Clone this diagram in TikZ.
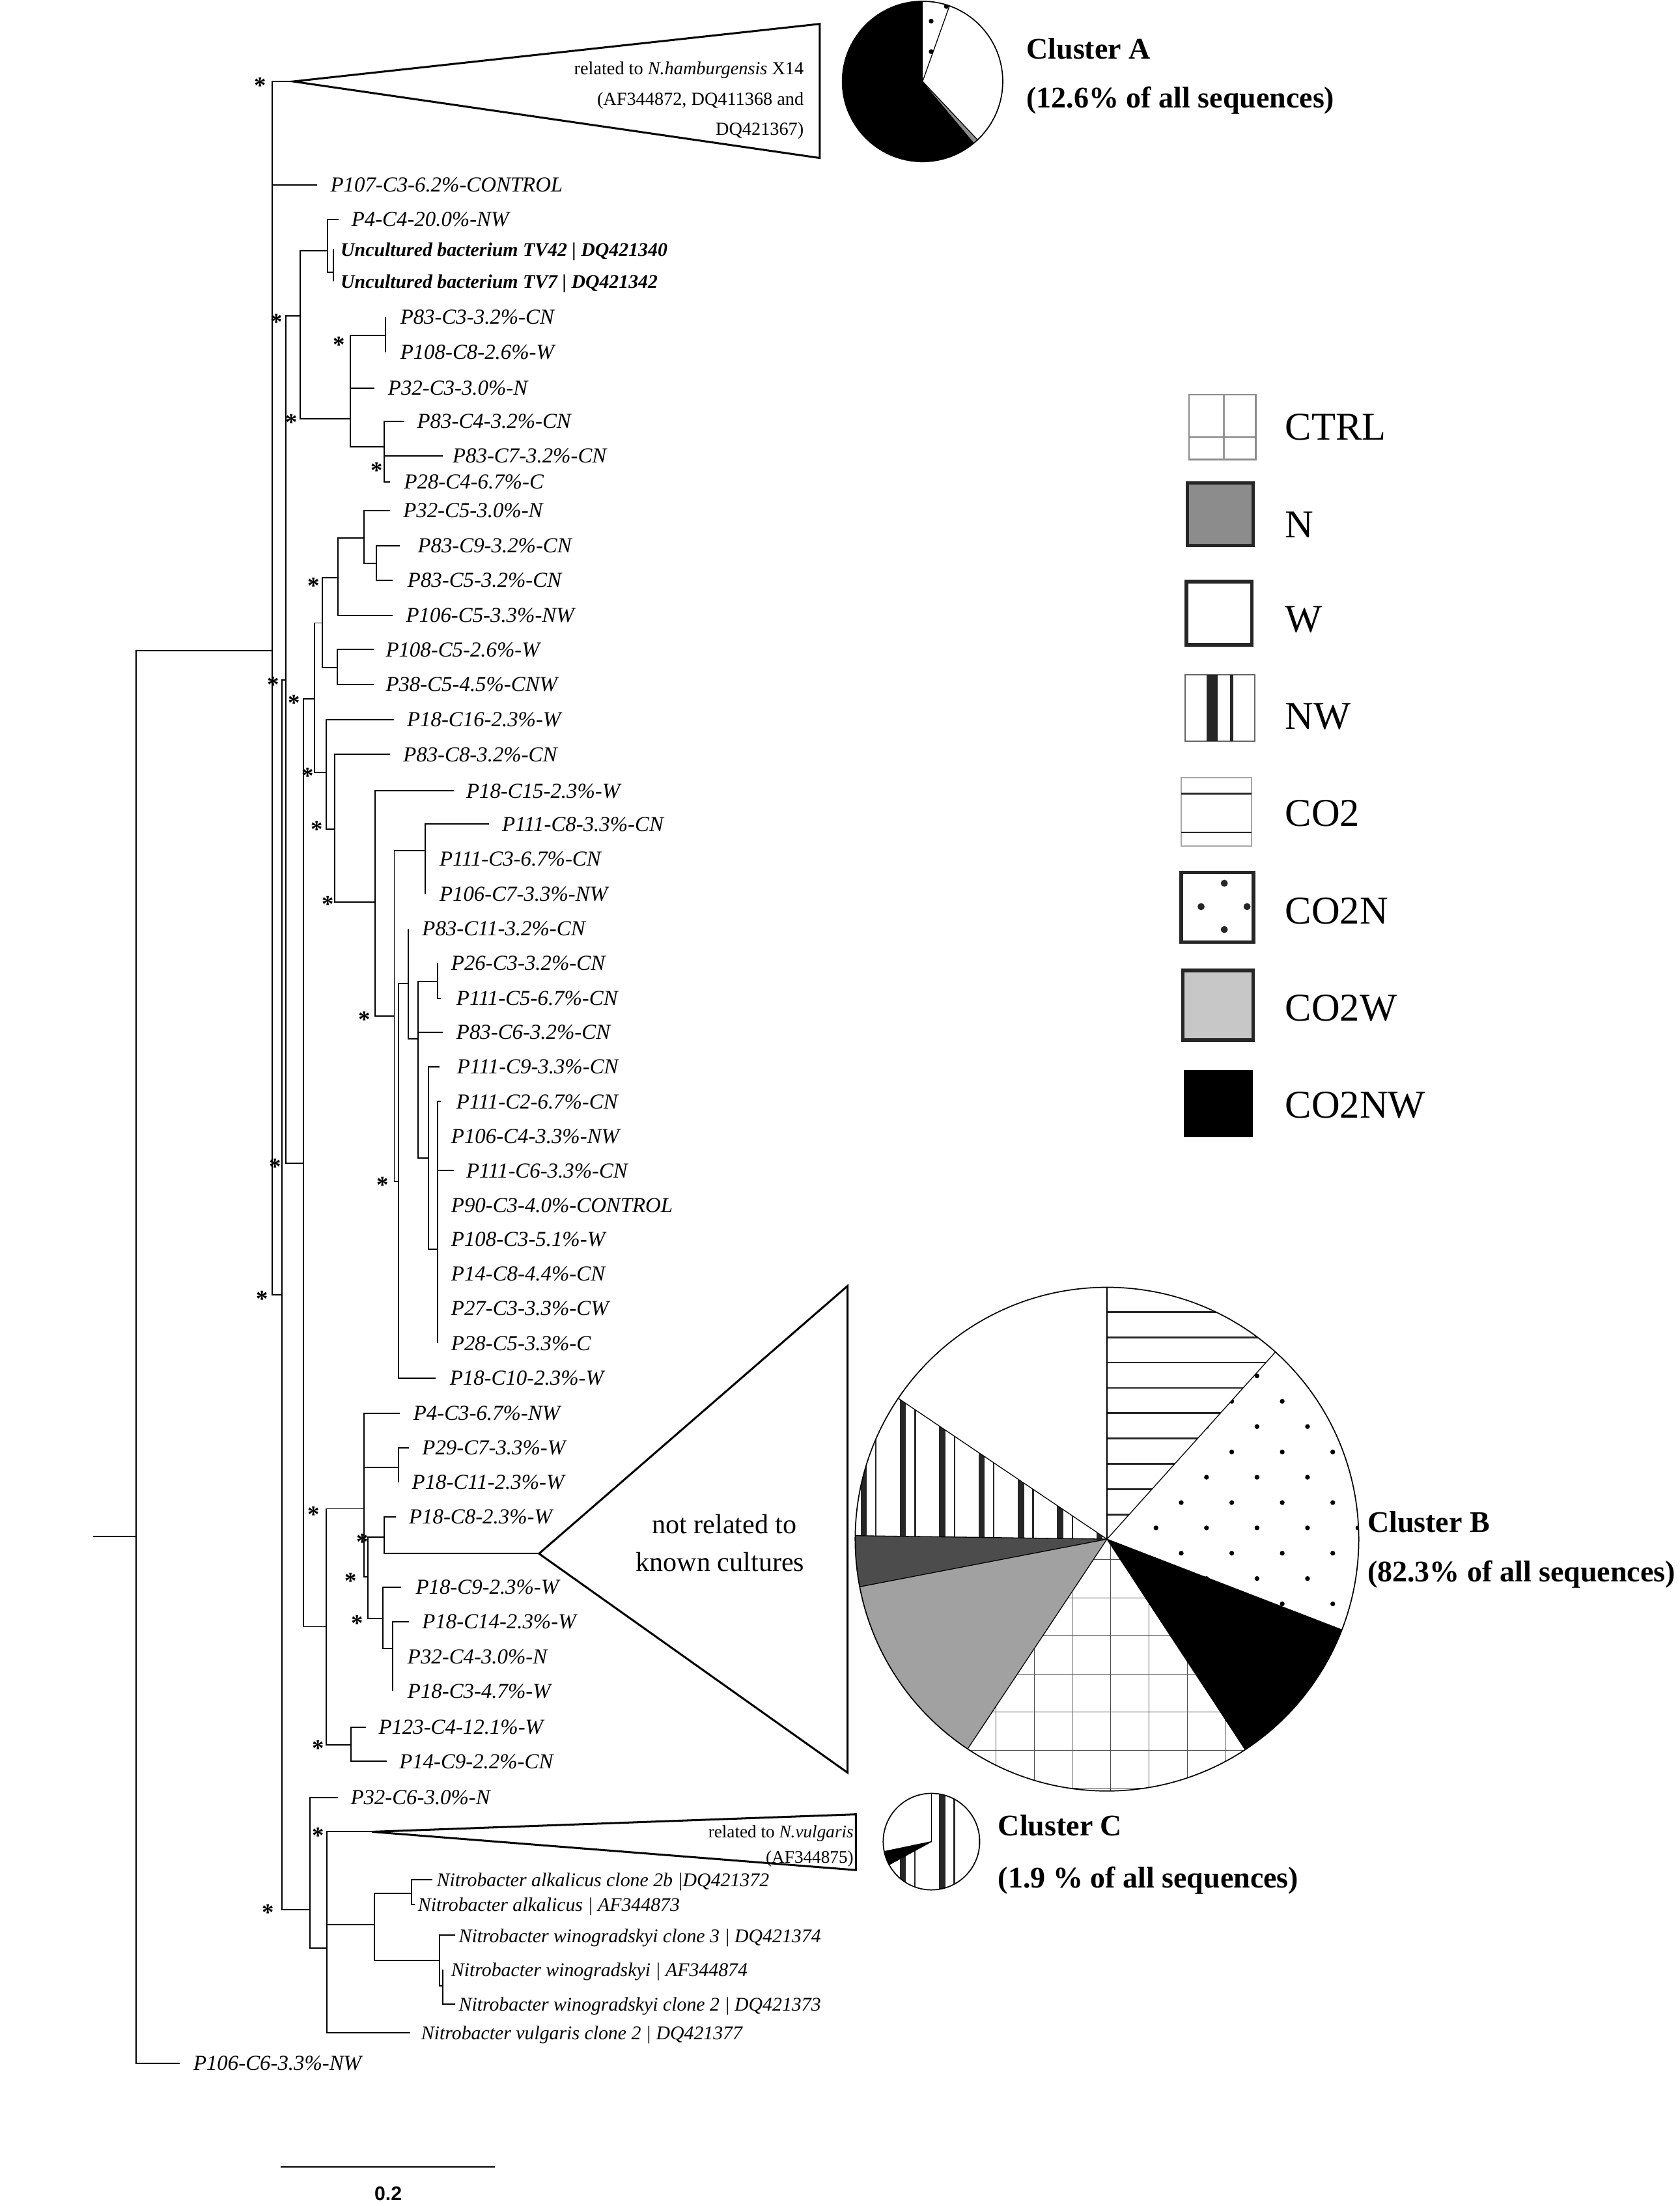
\documentclass[tikz,border=0pt]{standalone}
\usepackage{fontspec}
\setmainfont{Liberation Serif}
\newfontfamily\barfont{Liberation Sans}

\newcommand\clade[4]{%
  \coordinate (#1) at (#3,#4);
  \draw[branch] (#2) |- (#1);}
\newcommand\taxon[7][leaf]{%
  \coordinate (t#2) at (#4,#6);
  \draw[branch] (#3) |- (t#2);
  \node[#1] (l#2) at (#5,#6) {#7};}

\tikzset{
  branch/.style={line width=0.9pt},
  leaf/.style={anchor=west, inner sep=0pt, text height=10pt, text depth=0pt, font=\fontsize{15.2}{17}\selectfont\itshape},
  refleaf/.style={leaf, font=\fontsize{13.8}{15}\selectfont\bfseries\itshape},
  nitroleaf/.style={leaf, font=\fontsize{13.8}{15}\selectfont\itshape},
  supp/.style={inner sep=0pt, anchor=base, yshift=-8pt, font=\fontsize{17}{17}\selectfont\bfseries},
  collapsed/.style={line width=1.4pt, fill=white},
  tritext/.style={inner sep=0pt, text height=8.7pt, text depth=0pt, font=\fontsize{13.1}{14}\selectfont},
  bigtext/.style={inner sep=0pt, text height=9pt, text depth=0pt, font=\fontsize{19.5}{21}\selectfont},
  clusterlabel/.style={anchor=west, inner sep=0pt, text height=14pt, text depth=0pt, font=\fontsize{21.3}{24}\selectfont\bfseries},
  legendlabel/.style={anchor=west, inner sep=0pt, text height=18.5pt, text depth=0pt, font=\fontsize{28}{30}\selectfont},
  slice/.style={line width=0.6pt},
}

\begin{document}
\begin{tikzpicture}[x=1pt, y=-1pt]
\useasboundingbox (0,0) rectangle (1194,1568);

\coordinate (stub) at (66.4,1092);
\coordinate (root) at (96.6,1092);
\draw[branch] (stub) -- (root);
\clade{N1}{root}{193.6}{462.5}
\clade{clA}{N1}{208.4}{57.9}
\taxon{P107C3}{N1}{225.5}{234.8}{131.5}{P107-C3-6.2\%-CONTROL}
\clade{N2}{N1}{200.3}{920.5}
\clade{Nsub}{N2}{203.4}{483.5}
\clade{Na}{Nsub}{213.6}{224.4}
\clade{Nb}{Na}{233}{178.3}
\taxon{P4C4}{Nb}{240.5}{249.7}{156}{P4-C4-20.0\%-NW}
\clade{Nunc}{Nb}{237.1}{193.6}
\taxon[refleaf]{TV42}{Nunc}{237.1}{242}{177}{Uncultured bacterium TV42 | DQ421340}
\taxon[refleaf]{TV7}{Nunc}{237.1}{242}{200}{Uncultured bacterium TV7 | DQ421342}
\clade{Nc}{Na}{249}{297.6}
\clade{Nd}{Nc}{274}{238.5}
\taxon{P83C3}{Nd}{274}{284.4}{225.5}{P83-C3-3.2\%-CN}
\taxon{P108C8}{Nd}{274}{284.4}{250.5}{P108-C8-2.6\%-W}
\taxon{P32C3}{Nc}{266.2}{275.7}{276}{P32-C3-3.0\%-N}
\clade{Ne}{Nc}{273}{317.7}
\taxon{P83C4}{Ne}{287.5}{296.4}{299.5}{P83-C4-3.2\%-CN}
\taxon{P83C7}{Ne}{314.8}{321.6}{324}{P83-C7-3.2\%-CN}
\taxon{P28C4}{Ne}{277.2}{287.1}{342.5}{P28-C4-6.7\%-C}
\clade{Nn}{Nsub}{215.8}{826.7}
\clade{Nm}{Nn}{223.4}{496.8}
\clade{Nk}{Nm}{229.2}{442.8}
\clade{Ng}{Nk}{240.4}{410.5}
\clade{Nh}{Ng}{258.6}{382.6}
\taxon{P32C5}{Nh}{277.2}{286.5}{363}{P32-C5-3.0\%-N}
\clade{Ni}{Nh}{267.5}{400.3}
\taxon{P83C9}{Ni}{284.4}{296.8}{387.8}{P83-C9-3.2\%-CN}
\taxon{P83C5}{Ni}{279.3}{289.6}{412.3}{P83-C5-3.2\%-CN}
\taxon{P106C5}{Ng}{279.3}{288.5}{437.5}{P106-C5-3.3\%-NW}
\clade{Nl}{Nk}{239.6}{474.7}
\taxon{P108C5}{Nl}{265.8}{274.1}{461.7}{P108-C5-2.6\%-W}
\taxon{P38C5}{Nl}{265.8}{274.1}{486.6}{P38-C5-4.5\%-CNW}
\clade{No}{Nm}{232.1}{549.2}
\taxon{P18C16}{No}{280.3}{289.2}{511.4}{P18-C16-2.3\%-W}
\clade{Np}{No}{238}{589.4}
\taxon{P83C8}{Np}{277.2}{286.5}{536.2}{P83-C8-3.2\%-CN}
\clade{Nq}{Np}{266.8}{641.3}
\taxon{P18C15}{Nq}{322.7}{331.3}{562.2}{P18-C15-2.3\%-W}
\clade{Nr}{Nq}{280.3}{722.3}
\clade{Ns}{Nr}{302.4}{604.7}
\taxon{P111C8}{Ns}{347.5}{356.8}{585.8}{P111-C8-3.3\%-CN}
\taxon{P111C3}{Ns}{302.4}{312.3}{610.6}{P111-C3-6.7\%-CN}
\taxon{P106C7}{Ns}{302.4}{312.3}{635.4}{P106-C7-3.3\%-NW}
\clade{Nz}{Nr}{283.4}{839.7}
\clade{Nt}{Nz}{290.2}{699.2}
\taxon{P83C11}{Nt}{290.2}{300}{660.2}{P83-C11-3.2\%-CN}
\clade{Nv}{Nt}{297.4}{738.2}
\clade{Nw}{Nv}{311.3}{697.5}
\taxon{P26C3}{Nw}{311.3}{320.6}{684.5}{P26-C3-3.2\%-CN}
\taxon{P111C5}{Nw}{313.5}{324.3}{709.5}{P111-C5-6.7\%-CN}
\taxon{P83C6}{Nv}{314.8}{324.3}{733.8}{P83-C6-3.2\%-CN}
\clade{Nx}{Nv}{304.5}{823.2}
\taxon{P111C9}{Nx}{312.3}{324.7}{758.2}{P111-C9-3.3\%-CN}
\clade{Ny}{Nx}{311.3}{888.1}
\taxon{P111C2}{Ny}{313.5}{324.3}{783}{P111-C2-6.7\%-CN}
\taxon{P106C4}{Ny}{311.3}{320.6}{807.5}{P106-C4-3.3\%-NW}
\taxon{P111C6}{Ny}{322.7}{331.3}{832}{P111-C6-3.3\%-CN}
\taxon{P90C3}{Ny}{311.3}{320.6}{856.8}{P90-C3-4.0\%-CONTROL}
\taxon{P108C3}{Ny}{311.3}{320.6}{880.8}{P108-C3-5.1\%-W}
\taxon{P14C8}{Ny}{311.3}{320.6}{905.5}{P14-C8-4.4\%-CN}
\taxon{P27C3}{Ny}{311.3}{320.6}{930}{P27-C3-3.3\%-CW}
\taxon{P28C5}{Ny}{311.3}{320.6}{954.8}{P28-C5-3.3\%-C}
\taxon{P18C10}{Nz}{309.8}{319.6}{979.5}{P18-C10-2.3\%-W}
\clade{NB0}{Nn}{232.1}{1156.2}
\clade{NB1}{NB0}{258.6}{1072.4}
\taxon{P4C3}{NB1}{284.4}{293.7}{1004.5}{P4-C3-6.7\%-NW}
\clade{NB1a}{NB1}{283.4}{1042.9}
\taxon{P29C7}{NB1a}{290.6}{300}{1029.2}{P29-C7-3.3\%-W}
\taxon{P18C11}{NB1a}{283.4}{292.7}{1053.7}{P18-C11-2.3\%-W}
\clade{NB2}{NB1}{261.7}{1120.8}
\clade{NB3}{NB2}{273}{1092.5}
\taxon{P18C8}{NB3}{281.3}{290.6}{1078.2}{P18-C8-2.3\%-W}
\clade{clB}{NB3}{383.2}{1104.3}
\clade{NB4}{NB2}{272}{1150.3}
\taxon{P18C9}{NB4}{285.4}{295.4}{1128}{P18-C9-2.3\%-W}
\clade{NB5}{NB4}{279.3}{1171.9}
\taxon{P18C14}{NB5}{290.6}{300}{1152.8}{P18-C14-2.3\%-W}
\taxon{P32C4}{NB5}{279.3}{289.6}{1177.6}{P32-C4-3.0\%-N}
\taxon{P18C3}{NB5}{279.3}{289.6}{1202}{P18-C3-4.7\%-W}
\clade{N123}{NB0}{249.7}{1240.3}
\taxon{P123C4}{N123}{260}{269}{1227.6}{P123-C4-12.1\%-W}
\taxon{P14C9}{N123}{274.8}{283.7}{1252}{P14-C9-2.2\%-CN}
\clade{C0}{N2}{220.2}{1357.2}
\taxon{P32C6}{C0}{240.3}{249.1}{1277.5}{P32-C6-3.0\%-N}
\clade{C1}{C0}{232.6}{1384.5}
\clade{clC}{C1}{264.5}{1302}
\clade{C2}{C1}{266}{1367.9}
\clade{C3}{C2}{292.5}{1345.6}
\taxon[nitroleaf]{Nalkb}{C3}{307.3}{310.3}{1336}{Nitrobacter alkalicus clone 2b |DQ421372}
\taxon[nitroleaf]{Nalk}{C3}{295}{297}{1353.5}{Nitrobacter alkalicus | AF344873}
\clade{C4}{C2}{312.3}{1393.4}
\taxon[nitroleaf]{Nwinc}{C4}{323.5}{326}{1375.5}{Nitrobacter winogradskyi clone 3 | DQ421374}
\clade{C5}{C4}{314.7}{1411.5}
\taxon[nitroleaf]{Nwin}{C5}{314.7}{320.6}{1400}{Nitrobacter winogradskyi | AF344874}
\taxon[nitroleaf]{Nwinb}{C5}{323.5}{326}{1424.5}{Nitrobacter winogradskyi clone 2 | DQ421373}
\taxon[nitroleaf]{Nvul}{C1}{291.7}{299.3}{1444.8}{Nitrobacter vulgaris clone 2 | DQ421377}
\taxon{P106C6}{root}{127.9}{137.3}{1466.5}{P106-C6-3.3\%-NW}

\draw[collapsed] (clA) -- (582.8,17) -- (582.8,112.3) -- cycle;
\node[tritext, anchor=east] (hamA) at (571.6,48.6) {related to \textit{N.hamburgensis} X14};
\node[tritext, anchor=east] (hamB) at (571.6,70.2) {(AF344872, DQ411368 and};
\node[tritext, anchor=east] (hamC) at (571.6,91.8) {DQ421367)};
\draw[collapsed] (clB) -- (602.6,914) -- (602.6,1260) -- cycle;
\node[bigtext] (unrelA) at (515,1085.4) {not related to};
\node[bigtext] (unrelB) at (512,1112.5) {known cultures};
\draw[collapsed] (clC) -- (608.5,1289.6) -- (608.5,1329.2) -- cycle;
\node[tritext, anchor=east, font=\fontsize{12.6}{14}\selectfont] (vulA) at (607,1302) {related to \textit{N.vulgaris}};
\node[tritext, anchor=east, font=\fontsize{12.6}{14}\selectfont] (vulB) at (607,1320) {(AF344875)};

\foreach \sx/\sy [count=\i] in {184.8/58.6, 196.6/226.7, 241/242.5, 207.3/297.6, 267.9/331.8,
  223/413.8, 194.5/484.3, 209/497.2, 218.9/549.2, 225.5/587, 233.4/640.2, 259/722.3,
  195.5/826.7, 272/839.7, 186.2/920.7, 223/1074.3, 257.5/1093.6, 249.3/1121.5,
  254/1151.5, 226.1/1240.3, 226.1/1302.4, 190.7/1356.8}
  \node[supp] (s\i) at (\sx,\sy) {*};

\coordinate (bar0) at (199.3,1540.2);
\coordinate (bar1) at (352,1540.2);
\draw[line width=0.9pt] (bar0) -- (bar1);
\node[inner sep=0pt, font=\barfont\bfseries\fontsize{14}{14}\selectfont] (barlabel) at (276,1559) {0.2};

% pie of cluster A
\begin{scope}[shift={(655.9,57.9)}, y=1pt]
\fill[white] (0,0) circle[radius=57];
\fill[black] (0,0) -- (90:57) arc[start angle=90, end angle=310, radius=57] -- cycle;
\fill[black!45] (0,0) -- (310:57) arc[start angle=310, end angle=313.3, radius=57] -- cycle;
\begin{scope}
\clip (0,0) -- (70.4:57) arc[start angle=70.4, end angle=90, radius=57] -- cycle;
\foreach \dx/\dy in {6.1/42.9, 6.1/21.2, 16.9/53.3} \fill (\dx,\dy) circle[radius=1.7];
\end{scope}
\foreach \a in {70.4,90,313.3} \draw[slice] (0,0) -- (\a:57);
\draw[line width=0.8pt] (0,0) circle[radius=57];
\end{scope}
\node[clusterlabel] (cluA) at (729.6,35) {Cluster A};
\node[clusterlabel] (cluAp) at (729.6,69.4) {(12.6\% of all sequences)};

% pie of cluster B
\begin{scope}[shift={(787,1094)}, y=1pt]
\fill[white] (0,0) circle[radius=179];
\begin{scope}
\clip (0,0) -- (146:179) arc[start angle=146, end angle=179.2, radius=179] -- cycle;
\foreach \k in {0,...,6} {
  \fill[black!85] ({-175.2+27.95*\k},0) rectangle ++(4.4,179);
  \fill[black!85] ({-164.85+27.95*\k},0) rectangle ++(1.1,179);
}
\end{scope}
\fill[black!70] (0,0) -- (179.2:179) arc[start angle=179.2, end angle=190.9, radius=179] -- cycle;
\fill[black!37] (0,0) -- (190.9:179) arc[start angle=190.9, end angle=236.4, radius=179] -- cycle;
\begin{scope}
\clip (0,0) -- (236.4:179) arc[start angle=236.4, end angle=303.3, radius=179] -- cycle;
\foreach \k in {-4,...,4} \draw[black!70, line width=0.5pt] ({2.6+27.2*\k},0) -- ++(0,-179);
\foreach \k in {0,...,6} \draw[black!70, line width=0.5pt] (-179,{-14.6-27.1*\k}) -- ++(358,0);
\end{scope}
\fill[black] (0,0) -- (303.3:179) arc[start angle=303.3, end angle=338.9, radius=179] -- cycle;
\begin{scope}
\clip (0,0) -- (338.9:179) arc[start angle=338.9, end angle=408, radius=179] -- cycle;
\foreach \j in {-5,...,7} \foreach \k in {-4,...,6}
  \fill ({52.8+17.95*\j+35.9*\k},{26+18*\j}) circle[radius=1.7];
\end{scope}
\begin{scope}
\clip (0,0) -- (48:179) arc[start angle=48, end angle=90, radius=179] -- cycle;
\foreach \k in {0,...,9} \draw[black!85, line width=1.3pt] (0,{17.5+18*\k}) -- ++(179,0);
\end{scope}
\foreach \a in {48,90,146,179.2,190.9,236.4,303.3,338.9} \draw[slice] (0,0) -- (\a:179);
\draw[line width=0.8pt] (0,0) circle[radius=179];
\end{scope}
\node[clusterlabel] (cluB) at (972,1082.3) {Cluster B};
\node[clusterlabel] (cluBp) at (972,1117.4) {(82.3\% of all sequences)};

% pie of cluster C
\begin{scope}[shift={(662.2,1309)}, y=1pt]
\fill[white] (0,0) circle[radius=34.3];
\begin{scope}
\clip (0,0) -- (208.6:34.3) arc[start angle=208.6, end angle=450, radius=34.3] -- cycle;
\foreach \k in {0,1,2} \fill[black!85] ({-22.45+27.95*\k},-35) rectangle ++(4.4,70);
\foreach \k in {0,1} \fill[black!85] ({-12.2+27.95*\k},-35) rectangle ++(1.1,70);
\end{scope}
\fill[black] (0,0) -- (191.8:34.3) arc[start angle=191.8, end angle=208.6, radius=34.3] -- cycle;
\foreach \a in {90,191.8,208.6} \draw[slice] (0,0) -- (\a:34.3);
\draw[line width=0.8pt] (0,0) circle[radius=34.3];
\end{scope}
\node[clusterlabel] (cluC) at (709.4,1297.9) {Cluster C};
\node[clusterlabel] (cluCp) at (709.4,1334.9) {(1.9 \% of all sequences)};

% legend
\draw[black!45, line width=1pt] (845.4,280.6) rectangle (892.8,326.6);
\draw[black!40, line width=1.6pt] (870.1,280.6) -- (870.1,326.6);
\draw[black!50, line width=1pt] (845.4,310.7) -- (892.8,310.7);
\node[legendlabel] (kCTRL) at (913.6,303.6) {CTRL};
\draw[black!85, line width=2.5pt, fill=black!45] (844.2,343.3) rectangle (890.8,387.6);
\node[legendlabel] (kN) at (913.6,372.7) {N};
\draw[black!85, line width=2.5pt, fill=white] (843.4,413.4) rectangle (890.1,458.4);
\node[legendlabel] (kW) at (913.6,440) {W};
\draw[black!60, line width=1pt] (842.6,479.7) rectangle (892,526.8);
\fill[black!85] (857.7,479.7) rectangle (865.8,526.8);
\fill[black!85] (874.3,479.7) rectangle (876.9,526.8);
\node[legendlabel] (kNW) at (913.6,509) {NW};
\draw[black!35, line width=1pt] (839.8,552.7) rectangle (889.7,601.2);
\draw[black!85, line width=1.2pt] (839.8,564) -- (889.7,564) (839.8,591.6) -- (889.7,591.6);
\node[legendlabel] (kCO2) at (913.6,578.2) {CO2};
\draw[black!85, line width=2.5pt] (839.8,620) rectangle (891.2,669.6);
\foreach \dx/\dy in {870.4/627.8, 853.9/644.4, 886.6/644.4, 870.4/660.7} \fill[black!85] (\dx,\dy) circle[radius=2.5];
\node[legendlabel] (kCO2N) at (913.6,647.3) {CO2N};
\draw[black!85, line width=2.5pt, fill=black!22] (840.8,689.8) rectangle (890.8,739.4);
\node[legendlabel] (kCO2W) at (913.6,716.4) {CO2W};
\fill[black] (841.8,760.6) rectangle (890.8,808.5);
\node[legendlabel] (kCO2NW) at (913.6,785.4) {CO2NW};
\end{tikzpicture}
\end{document}
